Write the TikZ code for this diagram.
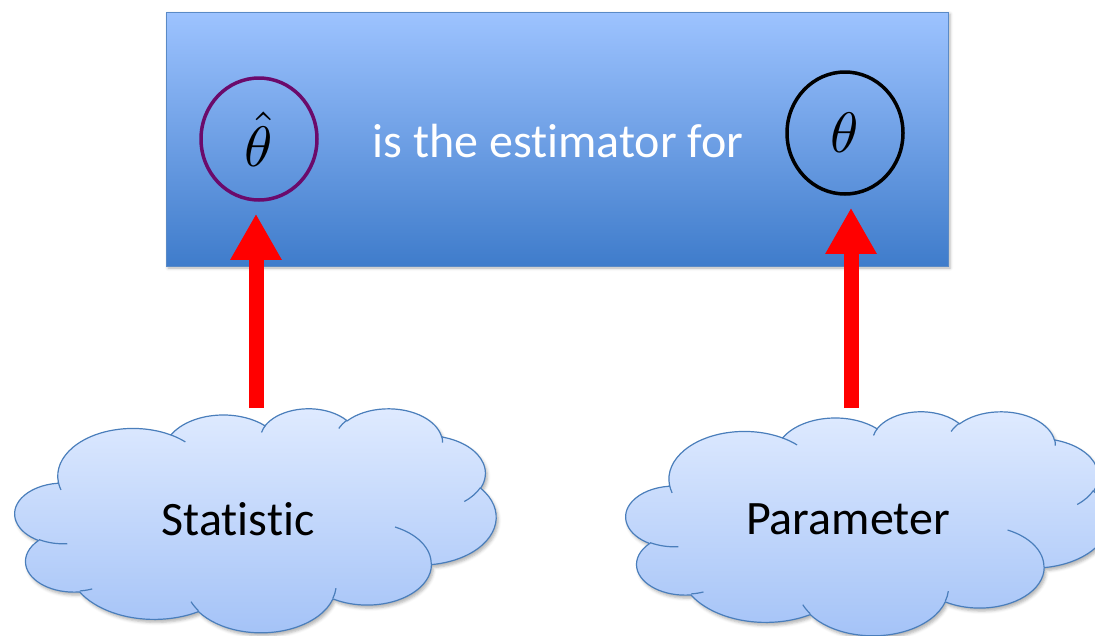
\documentclass[tikz,border=0pt]{standalone}
\usepackage{fontspec}
\setmainfont{Carlito}[Ligatures=NoCommon]
\usetikzlibrary{shapes.geometric,arrows.meta,shadows.blur}
\definecolor{boxtop}{HTML}{9DC3FF}
\definecolor{boxbot}{HTML}{3F7CCB}
\definecolor{boxedge}{HTML}{5A8AC6}
\definecolor{cloudtop}{HTML}{E0EBFF}
\definecolor{cloudbot}{HTML}{A3C2F7}
\definecolor{cloudedge}{HTML}{4A7EBB}
\definecolor{hatcol}{HTML}{6B0A6B}
\definecolor{arrowred}{HTML}{FF0000}
\tikzset{
  mainbox/.style={draw=boxedge, line width=0.8pt, top color=boxtop, bottom color=boxbot,
    minimum width=782pt, minimum height=254pt, inner sep=0pt,
    blur shadow={shadow xshift=2pt, shadow yshift=-2pt, shadow blur radius=3pt, shadow opacity=30}},
  ring/.style={ellipse, line width=3.5pt, minimum width=116pt, minimum height=122pt, inner sep=0pt},
  cloudbody/.style={draw=cloudedge, line width=1.2pt, top color=cloudtop, bottom color=cloudbot,
    blur shadow={shadow xshift=2pt, shadow yshift=-3pt, shadow blur radius=3pt, shadow opacity=30}},
  cloudinner/.style={draw=cloudedge, line width=1.2pt},
  lbl/.style={font=\fontsize{48}{56}\selectfont, text=black},
  uparrow/.style={arrowred, line width=15pt, -{Triangle[width=48pt,length=46pt]}, shorten >=12pt},
}
% PowerPoint-style cloud: #1,#2 = top-left corner, #3 = x unit, #4 = y unit (per 1/1000 of the box)
\newcommand\pptcloud[4]{%
\begin{scope}[shift={(#1,#2)}, x=#3, y=#4]
\path[cloudbody] (90.28,332.64)
  arc[x radius=156.32, y radius=212.73, start angle=-187.745, delta angle=128.112]
  arc[x radius=123.45, y radius=168.22, start angle=-152.011, delta angle=106.606]
  arc[x radius=101.04, y radius=137.62, start angle=-153.496, delta angle=116.150]
  arc[x radius=112.43, y radius=152.66, start angle=-139.711, delta angle=129.499]
  arc[x radius=123.45, y radius=168.36, start angle=-74.768, delta angle=97.975]
  arc[x radius=156.83, y radius=213.43, start angle=-37.503, delta angle=119.366]
  arc[x radius=133.91, y radius=182.11, start angle=0.460, delta angle=121.519]
  arc[x radius=156.30, y radius=213.31, start angle=16.843, delta angle=129.381]
  arc[x radius=178.70, y radius=244.05, start angle=58.993, delta angle=91.201]
  arc[x radius=100.93, y radius=136.99, start angle=83.306, delta angle=139.804]
  arc[x radius=100.58, y radius=137.62, start angle=120.354, delta angle=143.759]
  -- cycle;
\draw[cloudinner]
  (108.63,605.94) arc[x radius=100.58, y radius=137.62, start angle=85.547, delta angle=34.807]
  (160.37,807.85) arc[x radius=100.93, y radius=136.99, start angle=68.238, delta angle=15.068]
  (381.44,904.86) arc[x radius=156.30, y radius=213.31, start angle=146.223, delta angle=12.250]
  (667.29,804.42) arc[x radius=156.30, y radius=213.31, start angle=4.737, delta angle=12.106]
  (790.02,531.34) arc[x radius=133.91, y radius=182.11, start angle=-64.030, delta angle=64.490]
  (967.55,355.42) arc[x radius=123.45, y radius=168.36, start angle=23.207, delta angle=26.431]
  (887.13,125.60) arc[x radius=112.43, y radius=152.66, start angle=-10.212, delta angle=11.033]
  (673.10,91.48) arc[x radius=112.43, y radius=152.66, start angle=-156.284, delta angle=16.573]
  (512.52,109.26) arc[x radius=101.04, y radius=137.62, start angle=-167.726, delta angle=14.230]
  (324.07,120.19) arc[x radius=156.32, y radius=212.73, start angle=-59.633, delta angle=13.948]
  (95.53,365.49) arc[x radius=156.32, y radius=212.73, start angle=163.193, delta angle=9.060];
\end{scope}}
\begin{document}
\begin{tikzpicture}[x=1pt,y=-1pt]
\useasboundingbox (0,0) rectangle (1095,635);
\node[mainbox] (box) at (557,139) {};
\node[ring, draw=hatcol] (hat) at (259,139) {\scalebox{5.7}{$\hat\theta$}};
\node[ring, draw=black] (th) at (845,133) {\scalebox{5.7}{$\theta$}};
\node[font=\fontsize{48}{56}\selectfont, text=white] (txt) at (558,141) {is the estimator for};
\pptcloud{15}{408}{0.481pt}{-0.224pt}
\pptcloud{626}{411}{0.483pt}{-0.224pt}
\node[lbl] (statl) at (238,519) {Statistic};
\node[lbl] (paraml) at (848,519) {Parameter};
\coordinate (stattop) at (256,408);
\coordinate (paramtop) at (851,408);
\draw[uparrow] (stattop) -- (hat.south -| stattop);
\draw[uparrow] (paramtop) -- (th.south -| paramtop);
\end{tikzpicture}
\end{document}
